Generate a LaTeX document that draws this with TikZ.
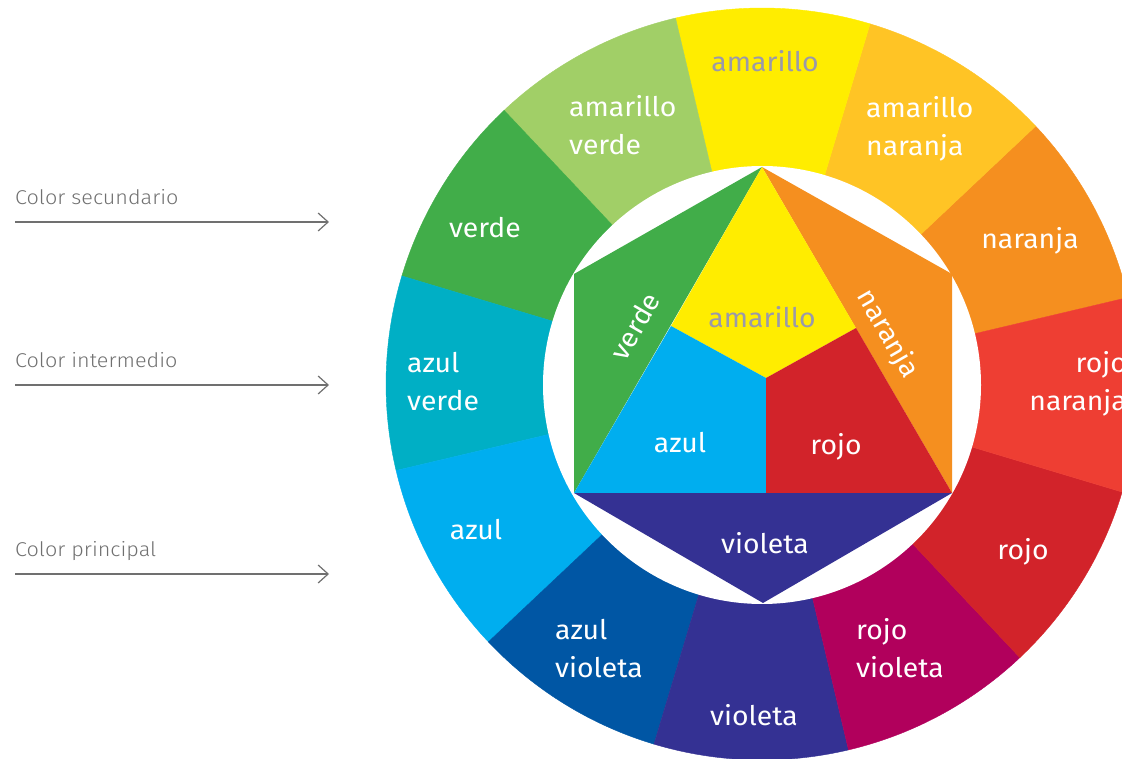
\documentclass[tikz,border=0pt]{standalone}
\usepackage{fontspec}
\setmainfont{Fira Sans}[FakeStretch=1.05]
\newfontfamily\notefamily{Fira Sans}[UprightFont={* Light},FakeStretch=1.08]
\usetikzlibrary{arrows.meta}
\definecolor{amarillo}{HTML}{FFED00}
\definecolor{amarilloverde}{HTML}{A1CF67}
\definecolor{verde}{HTML}{41AD49}
\definecolor{azulverde}{HTML}{00AFC5}
\definecolor{azul}{HTML}{00AEEF}
\definecolor{azulvioleta}{HTML}{0056A4}
\definecolor{violeta}{HTML}{343193}
\definecolor{rojovioleta}{HTML}{B1005C}
\definecolor{rojo}{HTML}{D2232A}
\definecolor{rojonaranja}{HTML}{EE3E33}
\definecolor{naranja}{HTML}{F58F1F}
\definecolor{amarillonaranja}{HTML}{FFC425}
\definecolor{labelgray}{HTML}{9A99AA}
\definecolor{notegray}{HTML}{707070}
\newcommand{\wheelfont}{\fontsize{27}{38}\selectfont}
\newcommand{\notefont}{\notefamily\fontsize{20}{23}\selectfont}

\begin{document}
\begin{tikzpicture}[x=1pt,y=1pt,
  lbl/.style={text=white,font=\wheelfont,inner sep=0pt,anchor=base},
  note/.style={text=notegray,font=\notefont,inner sep=0pt,anchor=base west},
  pointer/.style={draw=notegray,line width=1.2pt,-{Straight Barb[length=10pt,width=18pt]}}]
\tikzstyle{twoline}=[lbl,align=left,anchor=base west]
\useasboundingbox (0,0) rectangle (1122,758);
\coordinate (W) at (762,374);
\foreach \col [count=\i from 0] in {naranja,amarillonaranja,amarillo,amarilloverde,verde,azulverde,
    azul,azulvioleta,violeta,rojovioleta,rojo,rojonaranja}
  \filldraw[\col,line width=0.4pt] (W) -- ++(13.3+30*\i:376)
    arc[start angle=13.3+30*\i,delta angle=30,radius=376] -- cycle;
\fill[white] (762,373) circle[radius=219];
\coordinate (top) at (762,591);
\coordinate (ul) at (574,484);
\coordinate (ur) at (952,484);
\coordinate (ll) at (574,265);
\coordinate (lr) at (952,265);
\coordinate (bot) at (763,155);
\coordinate (mid) at (766,380);
\coordinate (ml) at (671,432);
\coordinate (mr) at (856,430);
\coordinate (mb) at (766,265);
\fill[verde] (top) -- (ul) -- (ll) -- cycle;
\fill[naranja] (top) -- (ur) -- (lr) -- cycle;
\fill[violeta] (ll) -- (lr) -- (bot) -- cycle;
\fill[amarillo] (top) -- (mr) -- (mid) -- (ml) -- cycle;
\fill[azul] (ml) -- (mid) -- (mb) -- (ll) -- cycle;
\fill[rojo] (mr) -- (lr) -- (mb) -- (mid) -- cycle;

\node[lbl,text=labelgray] (amarillo) at (765,686) {amarillo};
\node[twoline] (amarilloverde) at (569,603) {amarillo\\verde};
\node[twoline] (amarillonaranja) at (866,602) {amarillo\\naranja};
\node[lbl] (verde) at (485,520) {verde};
\node[lbl] (naranja) at (1030,509) {naranja};
\node[twoline] (azulverde) at (407,347) {azul\\verde};
\node[twoline,align=right,anchor=base east] (rojonaranja) at (1127,347) {rojo\\naranja};
\node[lbl] (azul) at (476,218) {azul};
\node[lbl] (rojo) at (1023,198) {rojo};
\node[twoline] (azulvioleta) at (555,81) {azul\\violeta};
\node[lbl] (violeta) at (754,33) {violeta};
\node[twoline] (rojovioleta) at (856,81) {rojo\\violeta};

\node[lbl,anchor=center,rotate=60] (verde-in) at (635,432) {verde};
\node[lbl,anchor=center,rotate=-60] (naranja-in) at (887,424) {naranja};
\node[lbl,text=labelgray] (amarillo-in) at (762,430) {amarillo};
\node[lbl] (azul-in) at (680,305) {azul};
\node[lbl] (rojo-in) at (836,303) {rojo};
\node[lbl] (violeta-in) at (765,204) {violeta};

\foreach \name/\txt/\y in {secundario/Color secundario/553,intermedio/Color intermedio/390,
    principal/Color principal/201}{
  \node[note] (\name) at (15,\y) {\txt};
  \coordinate (\name-a) at (15,\y-17);
  \coordinate (\name-b) at (329,\y-17);
  \draw[pointer] (\name-a) -- (\name-b);
}
\end{tikzpicture}
\end{document}
